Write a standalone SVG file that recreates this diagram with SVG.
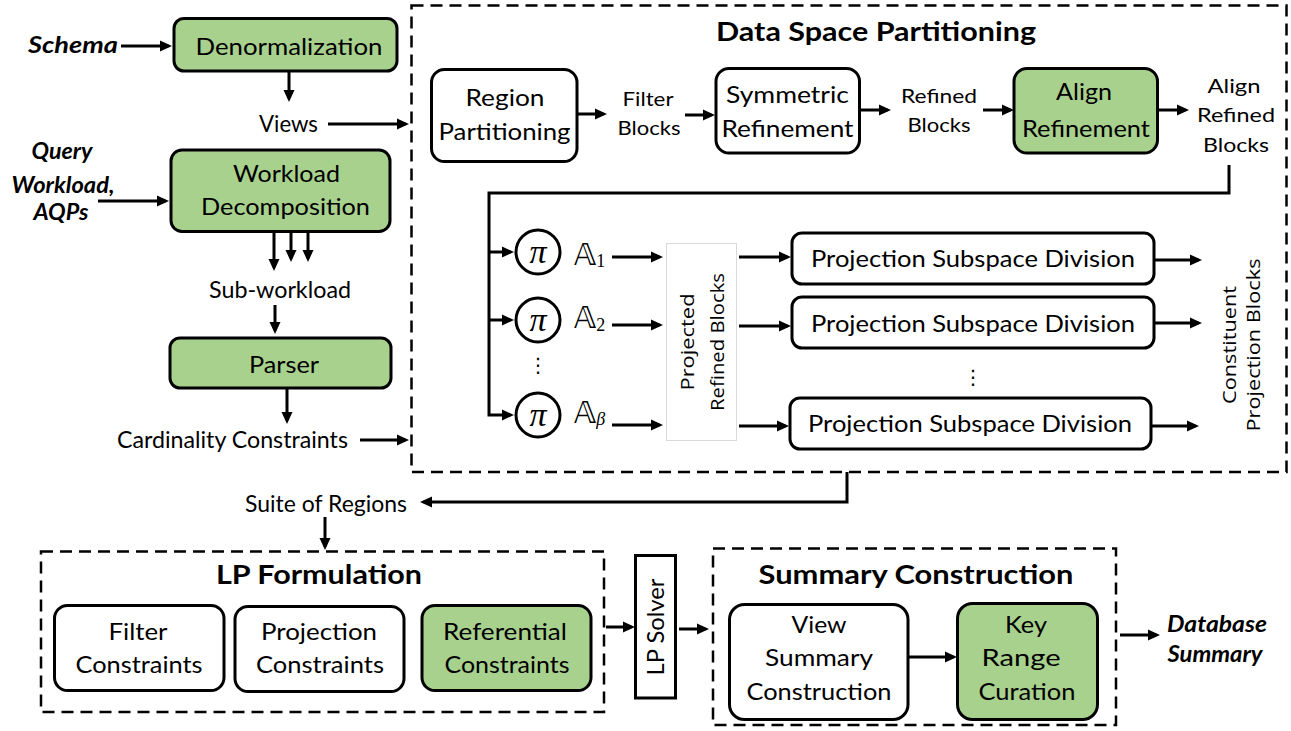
<svg xmlns="http://www.w3.org/2000/svg" width="1291" height="731" viewBox="0 0 1291 731">
  <style>
    .g { fill: #A9D18E; stroke: #000; stroke-width: 3; }
    .w { fill: #fff; stroke: #000; stroke-width: 3; }
    .dash { fill: none; stroke: #000; stroke-width: 2.5; stroke-dasharray: 12 7; }
    .c { fill: none; stroke: #000; stroke-width: 3; marker-end: url(#ah); }
    text { font-family: Lato, "Liberation Sans", sans-serif; font-size: 23px; fill: #000; text-anchor: middle; }
    .s { font-size: 20px; }
    .b { font-weight: bold; font-size: 26px; }
    .bi { font-weight: bold; font-style: italic; font-size: 22px; }
    .r { font-family: "Open Sans", "DejaVu Sans", sans-serif; font-size: 18px; }
    .pi { font-family: "Liberation Serif", "DejaVu Serif", serif; font-style: italic; font-size: 34px; }
    .m { font-family: "DejaVu Sans", "DejaVu Serif", sans-serif; font-size: 30px; text-anchor: start; }
    .sub { font-family: "Liberation Serif", serif; font-size: 18px; }
    .subi { font-family: "Liberation Serif", serif; font-style: italic; font-size: 18px; }
    .dots { font-family: "DejaVu Sans", sans-serif; font-size: 20px; }
  </style>
  <defs>
    <marker id="ah" viewBox="0 0 12 12" refX="8.5" refY="6" markerWidth="12" markerHeight="12" markerUnits="userSpaceOnUse" orient="auto">
      <path d="M0,0.5 L12,6 L0,11.5 z" fill="#000"/>
    </marker>
  </defs>

  <!-- inputs -->
  <g id="schema"><text class="bi" x="73" y="53" textLength="90" lengthAdjust="spacingAndGlyphs">Schema</text></g>
  <g id="query-workload">
    <text class="bi" x="62" y="159" textLength="61" lengthAdjust="spacingAndGlyphs">Query</text>
    <text class="bi" x="63" y="193" textLength="103" lengthAdjust="spacingAndGlyphs">Workload,</text>
    <text class="bi" x="61" y="220" textLength="55" lengthAdjust="spacingAndGlyphs">AQPs</text>
  </g>

  <!-- preprocessing column -->
  <g id="denormalization">
    <rect class="g" x="174" y="18.5" width="223" height="52.5" rx="10"/>
    <text x="289" y="55" textLength="187" lengthAdjust="spacingAndGlyphs">Denormalization</text>
  </g>
  <g id="views"><text x="288.5" y="132" textLength="59" lengthAdjust="spacingAndGlyphs">Views</text></g>
  <g id="workload-decomposition">
    <rect class="g" x="171" y="150" width="219" height="81.5" rx="11"/>
    <text x="286.5" y="182" textLength="107" lengthAdjust="spacingAndGlyphs">Workload</text>
    <text x="285.5" y="215" textLength="169" lengthAdjust="spacingAndGlyphs">Decomposition</text>
  </g>
  <g id="sub-workload"><text x="280" y="298" textLength="142" lengthAdjust="spacingAndGlyphs">Sub-workload</text></g>
  <g id="parser">
    <rect class="g" x="170" y="338" width="221" height="50" rx="10"/>
    <text x="284" y="373" textLength="70" lengthAdjust="spacingAndGlyphs">Parser</text>
  </g>
  <g id="cardinality"><text x="232.5" y="448" textLength="231" lengthAdjust="spacingAndGlyphs">Cardinality Constraints</text></g>

  <!-- data space partitioning stage -->
  <g id="data-space-partitioning">
    <rect class="dash" x="411.5" y="5.5" width="875" height="466.5"/>
    <text class="b" x="876" y="41" textLength="320" lengthAdjust="spacingAndGlyphs">Data Space Partitioning</text>
  </g>
  <g id="region-partitioning">
    <rect class="w" x="431.5" y="69.5" width="145.5" height="92" rx="13"/>
    <text x="505" y="106" textLength="79" lengthAdjust="spacingAndGlyphs">Region</text>
    <text x="504.5" y="140" textLength="132" lengthAdjust="spacingAndGlyphs">Partitioning</text>
  </g>
  <g id="filter-blocks">
    <text class="s" x="648" y="106" textLength="51" lengthAdjust="spacingAndGlyphs">Filter</text>
    <text class="s" x="649" y="135" textLength="63" lengthAdjust="spacingAndGlyphs">Blocks</text>
  </g>
  <g id="symmetric-refinement">
    <rect class="w" x="716" y="68.5" width="143.5" height="84.5" rx="13"/>
    <text x="787.5" y="103" textLength="123" lengthAdjust="spacingAndGlyphs">Symmetric</text>
    <text x="787.5" y="137" textLength="132" lengthAdjust="spacingAndGlyphs">Refinement</text>
  </g>
  <g id="refined-blocks">
    <text class="s" x="939" y="103" textLength="76" lengthAdjust="spacingAndGlyphs">Refined</text>
    <text class="s" x="939" y="132" textLength="63" lengthAdjust="spacingAndGlyphs">Blocks</text>
  </g>
  <g id="align-refinement">
    <rect class="g" x="1014" y="68.5" width="143.5" height="84.5" rx="13"/>
    <text x="1084" y="100" textLength="56" lengthAdjust="spacingAndGlyphs">Align</text>
    <text x="1086" y="137" textLength="128" lengthAdjust="spacingAndGlyphs">Refinement</text>
  </g>
  <g id="align-refined-blocks">
    <text class="s" x="1234" y="93" textLength="53" lengthAdjust="spacingAndGlyphs">Align</text>
    <text class="s" x="1236" y="122" textLength="78" lengthAdjust="spacingAndGlyphs">Refined</text>
    <text class="s" x="1236" y="152" textLength="66" lengthAdjust="spacingAndGlyphs">Blocks</text>
  </g>

  <!-- projection operators -->
  <g id="pi-1">
    <circle class="w" cx="538" cy="252" r="22"/>
    <text class="pi" x="538" y="263">π</text>
    <text class="m" x="574" y="265">𝔸<tspan class="sub" dy="2">1</tspan></text>
  </g>
  <g id="pi-2">
    <circle class="w" cx="538" cy="320" r="22"/>
    <text class="pi" x="538" y="331">π</text>
    <text class="m" x="574" y="328">𝔸<tspan class="sub" dy="3">2</tspan></text>
  </g>
  <g id="pi-dots"><text class="dots" x="538" y="372">⋮</text></g>
  <g id="pi-beta">
    <circle class="w" cx="538" cy="415" r="22"/>
    <text class="pi" x="538" y="426">π</text>
    <text class="m" x="574" y="423">𝔸<tspan class="subi" dy="2">β</tspan></text>
  </g>

  <g id="projected-refined-blocks">
    <rect x="666.5" y="243.5" width="70" height="197" fill="#fff" stroke="#d9d9d9" stroke-width="1"/>
    <g transform="translate(702,342) rotate(-90)">
      <text class="r" x="0" y="-8" textLength="97" lengthAdjust="spacingAndGlyphs">Projected</text>
      <text class="r" x="0" y="22" textLength="138" lengthAdjust="spacingAndGlyphs">Refined Blocks</text>
    </g>
  </g>

  <g id="psd-1">
    <rect class="w" x="792" y="233" width="362" height="51" rx="10"/>
    <text x="973" y="267" textLength="324" lengthAdjust="spacingAndGlyphs">Projection Subspace Division</text>
  </g>
  <g id="psd-2">
    <rect class="w" x="792" y="297" width="362" height="51" rx="10"/>
    <text x="973" y="332" textLength="324" lengthAdjust="spacingAndGlyphs">Projection Subspace Division</text>
  </g>
  <g id="psd-dots"><text class="dots" x="973" y="384">⋮</text></g>
  <g id="psd-beta">
    <rect class="w" x="790" y="398" width="361" height="51" rx="10"/>
    <text x="970" y="432" textLength="324" lengthAdjust="spacingAndGlyphs">Projection Subspace Division</text>
  </g>

  <g id="constituent-projection-blocks">
    <g transform="translate(1241,345) rotate(-90)">
      <text class="r" x="0" y="-5" textLength="118" lengthAdjust="spacingAndGlyphs">Constituent</text>
      <text class="r" x="0" y="19" textLength="173" lengthAdjust="spacingAndGlyphs">Projection Blocks</text>
    </g>
  </g>

  <g id="suite-of-regions"><text x="326" y="512" textLength="162" lengthAdjust="spacingAndGlyphs">Suite of Regions</text></g>

  <!-- LP formulation stage -->
  <g id="lp-formulation">
    <rect class="dash" x="41" y="551.5" width="563" height="160.5"/>
    <text class="b" x="319" y="584" textLength="206" lengthAdjust="spacingAndGlyphs">LP Formulation</text>
  </g>
  <g id="filter-constraints">
    <rect class="w" x="54.5" y="605.5" width="169.5" height="85" rx="13"/>
    <text x="138" y="640" textLength="59" lengthAdjust="spacingAndGlyphs">Filter</text>
    <text x="139" y="673" textLength="127" lengthAdjust="spacingAndGlyphs">Constraints</text>
  </g>
  <g id="projection-constraints">
    <rect class="w" x="235" y="606.5" width="169" height="85" rx="13"/>
    <text x="319" y="640" textLength="116" lengthAdjust="spacingAndGlyphs">Projection</text>
    <text x="320" y="673" textLength="128" lengthAdjust="spacingAndGlyphs">Constraints</text>
  </g>
  <g id="referential-constraints">
    <rect class="g" x="422" y="605.5" width="169" height="85" rx="13"/>
    <text x="505" y="640" textLength="124" lengthAdjust="spacingAndGlyphs">Referential</text>
    <text x="507" y="673" textLength="125" lengthAdjust="spacingAndGlyphs">Constraints</text>
  </g>

  <g id="lp-solver">
    <rect class="w" x="635.5" y="555.5" width="40" height="142.5"/>
    <g transform="translate(655.5,627) rotate(-90)">
      <text x="0" y="8" textLength="97" lengthAdjust="spacingAndGlyphs">LP Solver</text>
    </g>
  </g>

  <!-- summary construction stage -->
  <g id="summary-construction">
    <rect class="dash" x="713" y="548.5" width="403" height="176.5"/>
    <text class="b" x="916" y="584" textLength="315" lengthAdjust="spacingAndGlyphs">Summary Construction</text>
  </g>
  <g id="view-summary-construction">
    <rect class="w" x="729.5" y="604.5" width="178.5" height="115" rx="15"/>
    <text x="819" y="633" textLength="55" lengthAdjust="spacingAndGlyphs">View</text>
    <text x="819" y="666" textLength="108" lengthAdjust="spacingAndGlyphs">Summary</text>
    <text x="819" y="700" textLength="145" lengthAdjust="spacingAndGlyphs">Construction</text>
  </g>
  <g id="key-range-curation">
    <rect class="g" x="957.5" y="603.5" width="140" height="116" rx="15"/>
    <text x="1026" y="633" textLength="42" lengthAdjust="spacingAndGlyphs">Key</text>
    <text x="1021" y="666" textLength="79" lengthAdjust="spacingAndGlyphs">Range</text>
    <text x="1027" y="700" textLength="97" lengthAdjust="spacingAndGlyphs">Curation</text>
  </g>
  <g id="database-summary">
    <text class="bi" x="1217" y="632" textLength="100" lengthAdjust="spacingAndGlyphs">Database</text>
    <text class="bi" x="1215" y="662" textLength="95" lengthAdjust="spacingAndGlyphs">Summary</text>
  </g>

  <!-- connectors -->
  <g id="connectors">
    <path class="c" d="M121,46 H168.5"/>
    <path class="c" d="M289,71 V98.5"/>
    <path class="c" d="M328,124 H405.5"/>
    <path class="c" d="M98,201 H165.5"/>
    <path class="c" d="M274,232 V267.5"/>
    <path class="c" d="M291,232 V258.5"/>
    <path class="c" d="M308,232 V258.5"/>
    <path class="c" d="M275,305 V330.5"/>
    <path class="c" d="M287,388 V420.5"/>
    <path class="c" d="M360,440 H405.5"/>

    <path class="c" d="M577,114 H603.5"/>
    <path class="c" d="M685,115 H711.5"/>
    <path class="c" d="M859.5,110 H887.5"/>
    <path class="c" d="M983,110 H1010.5"/>
    <path class="c" d="M1157.5,110 H1185.5"/>

    <path class="c" d="M1229,165 V193 H489 V415 H510.5"/>
    <path class="c" d="M489,252 H510.5"/>
    <path class="c" d="M489,320 H510.5"/>

    <path class="c" d="M612,257 H659.5"/>
    <path class="c" d="M612,325 H659.5"/>
    <path class="c" d="M612,425 H659.5"/>
    <path class="c" d="M739,257 H787.5"/>
    <path class="c" d="M739,326 H787.5"/>
    <path class="c" d="M739,426 H785.5"/>
    <path class="c" d="M1154,260 H1198.5"/>
    <path class="c" d="M1154,323 H1198.5"/>
    <path class="c" d="M1151,426 H1195.5"/>

    <path class="c" d="M847,472 V502 H423.5"/>
    <path class="c" d="M325,517 V546.5"/>
    <path class="c" d="M606,627 H631.5"/>
    <path class="c" d="M679,629 H705.5"/>
    <path class="c" d="M908,657 H953.5"/>
    <path class="c" d="M1120,635 H1156.5"/>
  </g>
</svg>
